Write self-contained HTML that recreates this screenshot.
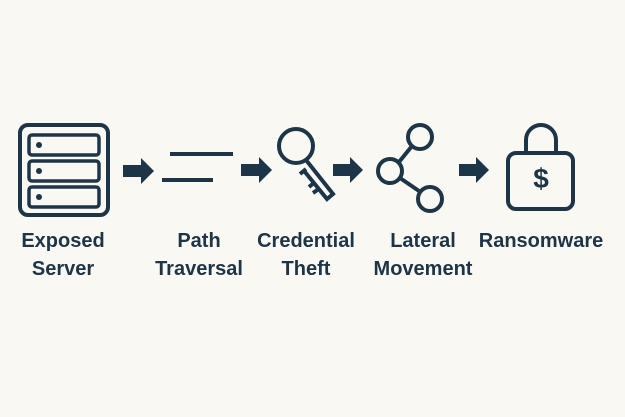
<!DOCTYPE html>
<html><head><style>
html,body{margin:0;padding:0;background:#f9f8f3;}
.w{position:relative;width:625px;height:417px;overflow:hidden;background:#f9f8f3;}
.l{position:absolute;top:227px;width:160px;margin-left:-80px;text-align:center;font:bold 20px/28px "Liberation Sans",sans-serif;color:#1c3548;}
</style></head><body><div class="w">
<svg width="625" height="417" style="position:absolute;left:0;top:0" fill="none" stroke="#1c3548" stroke-width="4">
<rect x="20" y="125" width="88" height="90" rx="8"/>
<rect x="29" y="135" width="70" height="20" rx="3" stroke-width="3.5"/>
<rect x="29" y="161" width="70" height="20" rx="3" stroke-width="3.5"/>
<rect x="29" y="187" width="70" height="20" rx="3" stroke-width="3.5"/>
<g fill="#1c3548" stroke="none">
<circle cx="39" cy="145" r="3"/><circle cx="39" cy="171" r="3"/><circle cx="39" cy="197" r="3"/>
<polygon points="123,165 141,165 141,158 154,171 141,184 141,177 123,177"/>
<polygon points="241,164 259,164 259,157 272,170 259,183 259,176 241,176"/>
<polygon points="333,164 350,164 350,157 363,170 350,183 350,176 333,176"/>
<polygon points="459,164 476,164 476,157 489,170 476,183 476,176 459,176"/>
</g>
<line x1="170" y1="154" x2="233" y2="154"/>
<line x1="162" y1="180" x2="213" y2="180"/>
<circle cx="296" cy="146" r="17"/>
<path d="M306 160 L333 194 L327 199 L305 172 M315 182 L309 187 M320 188 L313 193 M300 174 L306 169"/>
<circle cx="420" cy="137" r="12"/>
<circle cx="390" cy="171" r="12"/>
<circle cx="430" cy="199" r="12"/>
<line x1="399" y1="162" x2="412" y2="146"/>
<line x1="400" y1="178" x2="419" y2="191"/>
<rect x="508" y="153" width="65" height="56" rx="8"/>
<path d="M526 153 V140 a15 15 0 0 1 30 0 V153"/>
</svg>
<div style="position:absolute;left:523px;top:162px;width:36px;text-align:center;font:bold 28px/34px 'Liberation Sans',sans-serif;color:#1c3548">$</div>
<div class="l" style="left:63px">Exposed<br>Server</div>
<div class="l" style="left:199px">Path<br>Traversal</div>
<div class="l" style="left:306px">Credential<br>Theft</div>
<div class="l" style="left:423px">Lateral<br>Movement</div>
<div class="l" style="left:541px">Ransomware</div>
</div></body></html>
